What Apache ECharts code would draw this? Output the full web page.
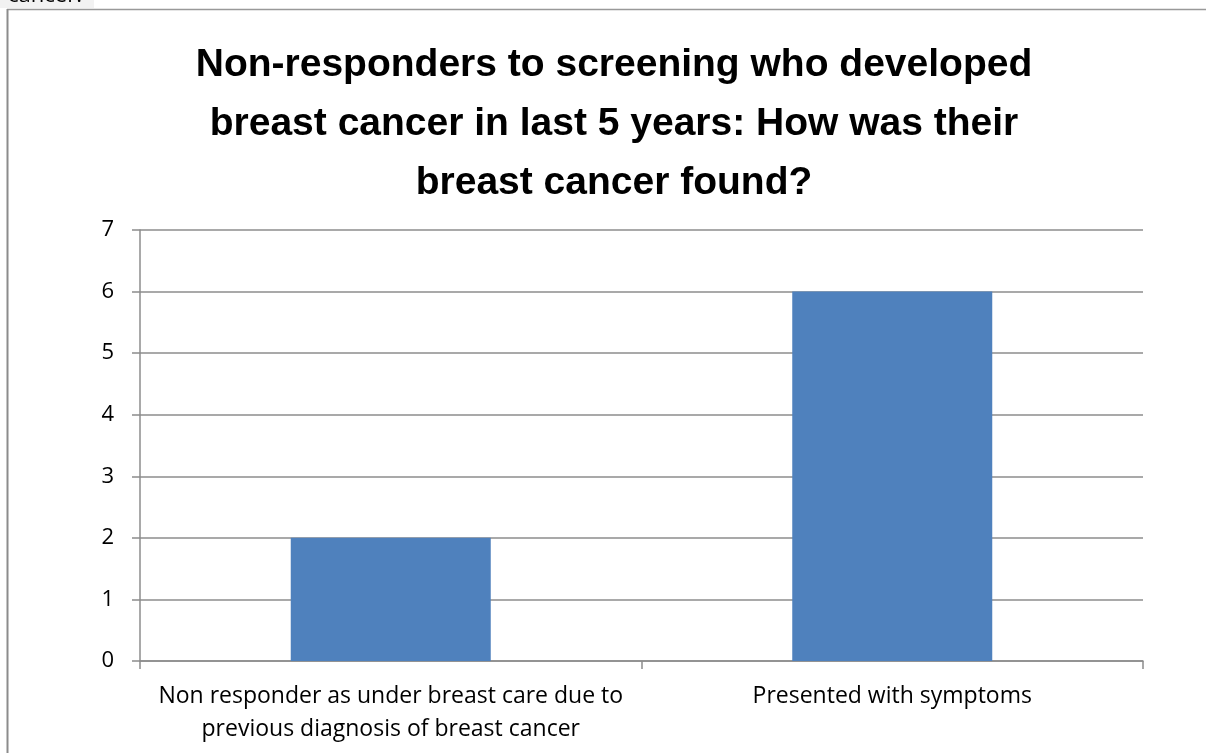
<!DOCTYPE html>
<html>
<head>
<meta charset="utf-8">
<script src="https://cdn.jsdelivr.net/npm/echarts@6/dist/echarts.min.js"></script>
<style>
html,body{margin:0;padding:0;background:#fff;}
#chart{width:1206px;height:753px;}
</style>
</head>
<body>
<div id="chart"></div>
<script>
const categories = [
  'Non responder as under breast care due to\nprevious diagnosis of breast cancer',
  'Presented with symptoms'
];
const values = [2, 6];
const yTicks = [0, 1, 2, 3, 4, 5, 6, 7];
const titleText = 'Non-responders to screening who developed\nbreast cancer in last 5 years: How was their\nbreast cancer found?';

const chart = echarts.init(document.getElementById('chart'), null, {renderer: 'canvas'});
const lineColor = '#8c8c8c';
chart.setOption({
  animation: false,
  backgroundColor: '#ffffff',
  title: {
    text: titleText,
    left: 609,
    top: 31,
    textAlign: 'center',
    textStyle: {
      fontFamily: 'Liberation Sans',
      fontWeight: 'bold',
      fontSize: 39,
      lineHeight: 59,
      color: '#000'
    }
  },
  graphic: [
    {type: 'rect', shape: {x: 0, y: 0, width: 94, height: 8}, style: {fill: '#f2f2f2'}, z: 10},
    {type: 'text', x: 8, y: -15, style: {text: 'cancer.', font: '22px "Open Sans"', fill: '#000'}, z: 11},
    {type: 'line', shape: {x1: 7, y1: 9.5, x2: 1206, y2: 9.5}, style: {stroke: '#999', lineWidth: 1.5}, z: 10},
    {type: 'line', shape: {x1: 7.5, y1: 9, x2: 7.5, y2: 753}, style: {stroke: lineColor, lineWidth: 2}, z: 10}
  ],
  grid: {left: 140, right: 63, top: 230, bottom: 92, containLabel: false},
  xAxis: {
    type: 'category',
    data: categories,
    axisLine: {show: true, lineStyle: {color: lineColor, width: 1.5}},
    axisTick: {show: true, length: 8, lineStyle: {color: lineColor, width: 1.5}},
    axisLabel: {
      interval: 0,
      margin: 19,
      color: '#000',
      fontFamily: 'Open Sans',
      fontSize: 23,
      lineHeight: 33
    }
  },
  yAxis: {
    type: 'value',
    min: 0,
    max: 7,
    interval: 1,
    axisLine: {show: true, lineStyle: {color: lineColor, width: 1.5}},
    axisTick: {show: true, length: 8, lineStyle: {color: lineColor, width: 1.5}},
    splitLine: {show: true, lineStyle: {color: lineColor, width: 1.5}},
    axisLabel: {
      margin: 26,
      color: '#000',
      fontFamily: 'Open Sans',
      fontSize: 22,
      formatter: function (v) { return yTicks.indexOf(v) >= 0 ? String(v) : ''; }
    }
  },
  series: [{
    type: 'bar',
    data: values,
    barWidth: 200,
    itemStyle: {color: '#4f81bd'}
  }]
});
</script>
</body>
</html>
